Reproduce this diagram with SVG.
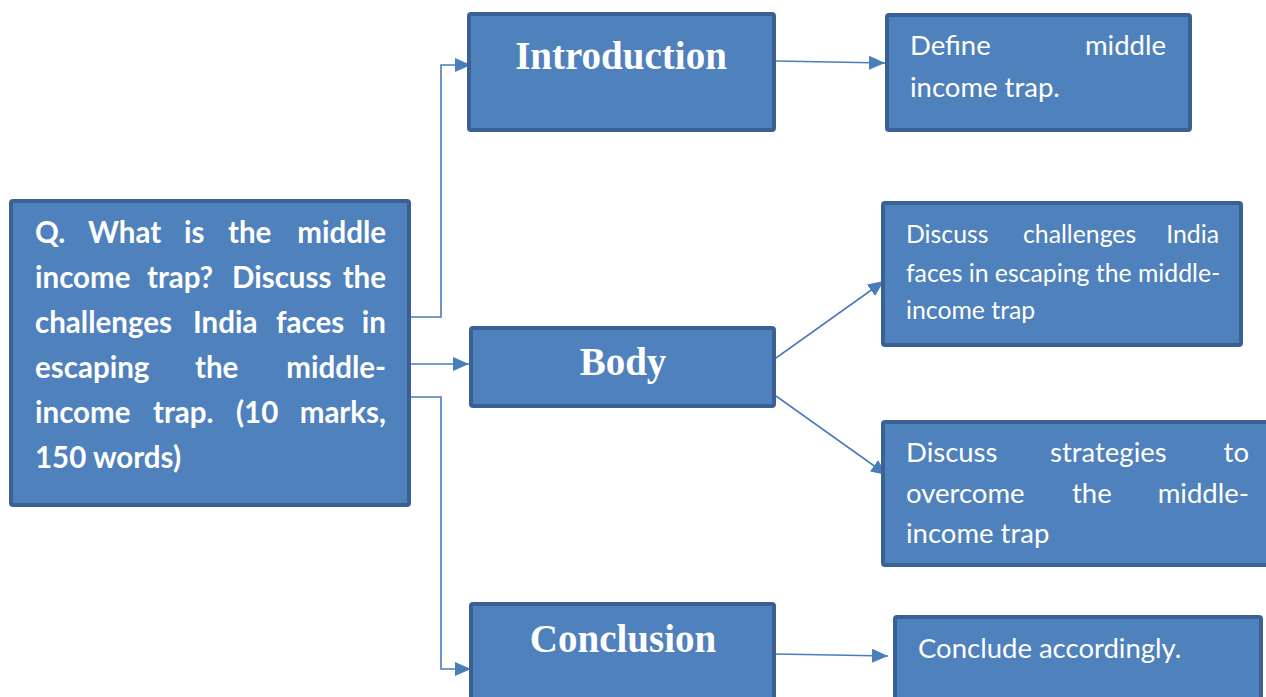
<svg xmlns="http://www.w3.org/2000/svg" width="1266" height="697" viewBox="0 0 1266 697">
  <style>
    .box { fill: #4F81BD; stroke: #3B6194; stroke-width: 4; }
    .wire { fill: none; stroke: #4A7EBB; stroke-width: 1.6; }
    .head { font-family: "Liberation Serif", "Times New Roman", serif; font-weight: bold; font-size: 39px; fill: #FFFFFF; text-anchor: middle; }
    .q { font-family: Lato, "Noto Sans", sans-serif; font-weight: bold; font-size: 29.5px; fill: #FFFFFF; }
    .note { font-family: Lato, "Noto Sans", sans-serif; font-size: 27.5px; fill: #FFFFFF; }
    .note-sm { font-family: Lato, "Noto Sans", sans-serif; font-size: 24.8px; fill: #FFFFFF; }
    .end { text-anchor: end; }
  </style>
  <defs>
    <marker id="arrow" viewBox="0 0 16 14" refX="16" refY="7" markerWidth="16" markerHeight="14" markerUnits="userSpaceOnUse" orient="auto">
      <path d="M0,0 L16,7 L0,14 z" fill="#4A7EBB"/>
    </marker>
  </defs>

  <rect width="1266" height="697" fill="#FFFFFF"/>

  <!-- connectors -->
  <g id="connectors">
    <path class="wire" d="M411 317 H441 V65 H471" marker-end="url(#arrow)"/>
    <path class="wire" d="M411 364 H469" marker-end="url(#arrow)"/>
    <path class="wire" d="M411 397 H441 V669 H471" marker-end="url(#arrow)"/>
    <path class="wire" d="M776 61 L885 63" marker-end="url(#arrow)"/>
    <path class="wire" d="M776 358 L884 281" marker-end="url(#arrow)"/>
    <path class="wire" d="M776 396 L887 475" marker-end="url(#arrow)"/>
    <path class="wire" d="M776 654 L888 656" marker-end="url(#arrow)"/>
  </g>

  <!-- question -->
  <g id="question">
    <rect class="box" x="11" y="201" width="398" height="304" rx="2"/>
    <text class="q" y="243"><tspan x="35">Q.</tspan><tspan x="88">What</tspan><tspan x="184">is</tspan><tspan x="228">the</tspan></text>
    <text class="q end" x="386" y="243">middle</text>
    <text class="q" y="288"><tspan x="35">income</tspan><tspan x="147">trap?</tspan><tspan x="232">Discuss</tspan></text>
    <text class="q end" x="386" y="288">the</text>
    <text class="q" y="333"><tspan x="35">challenges</tspan><tspan x="193">India</tspan><tspan x="276">faces</tspan></text>
    <text class="q end" x="386" y="333">in</text>
    <text class="q" y="378"><tspan x="35">escaping</tspan><tspan x="195">the</tspan></text>
    <text class="q end" x="386" y="378">middle-</text>
    <text class="q" y="423"><tspan x="35">income</tspan><tspan x="153">trap.</tspan><tspan x="236">(10</tspan></text>
    <text class="q end" x="386" y="423">marks,</text>
    <text class="q" x="35" y="468">150 words)</text>
  </g>

  <!-- introduction -->
  <g id="introduction">
    <rect class="box" x="469" y="14" width="305" height="116" rx="2"/>
    <text class="head" x="621" y="69">Introduction</text>
  </g>

  <!-- body -->
  <g id="body">
    <rect class="box" x="471" y="328" width="303" height="78" rx="2"/>
    <text class="head" x="623" y="375">Body</text>
  </g>

  <!-- conclusion -->
  <g id="conclusion">
    <rect class="box" x="471" y="604" width="303" height="110" rx="2"/>
    <text class="head" x="623" y="652">Conclusion</text>
  </g>

  <!-- define -->
  <g id="define">
    <rect class="box" x="887" y="15" width="303" height="115" rx="2"/>
    <text class="note" x="910" y="55">Define</text>
    <text class="note end" x="1166" y="55">middle</text>
    <text class="note" x="910" y="97">income trap.</text>
  </g>

  <!-- challenges -->
  <g id="challenges">
    <rect class="box" x="883" y="203" width="358" height="142" rx="2"/>
    <text class="note-sm" y="243"><tspan x="906">Discuss</tspan><tspan x="1023">challenges</tspan></text>
    <text class="note-sm end" x="1219" y="243">India</text>
    <text class="note-sm" x="906" y="282">faces in escaping the middle-</text>
    <text class="note-sm" x="906" y="319">income trap</text>
  </g>

  <!-- strategies -->
  <g id="strategies">
    <rect class="box" x="883" y="422" width="420" height="143" rx="2"/>
    <text class="note" y="462"><tspan x="906">Discuss</tspan><tspan x="1050">strategies</tspan></text>
    <text class="note end" x="1249" y="462">to</text>
    <text class="note" y="503"><tspan x="906">overcome</tspan><tspan x="1072">the</tspan></text>
    <text class="note end" x="1249" y="503">middle-</text>
    <text class="note" x="906" y="543">income trap</text>
  </g>

  <!-- conclude -->
  <g id="conclude">
    <rect class="box" x="895" y="617" width="366" height="110" rx="2"/>
    <text class="note" x="918" y="658">Conclude accordingly.</text>
  </g>
</svg>
